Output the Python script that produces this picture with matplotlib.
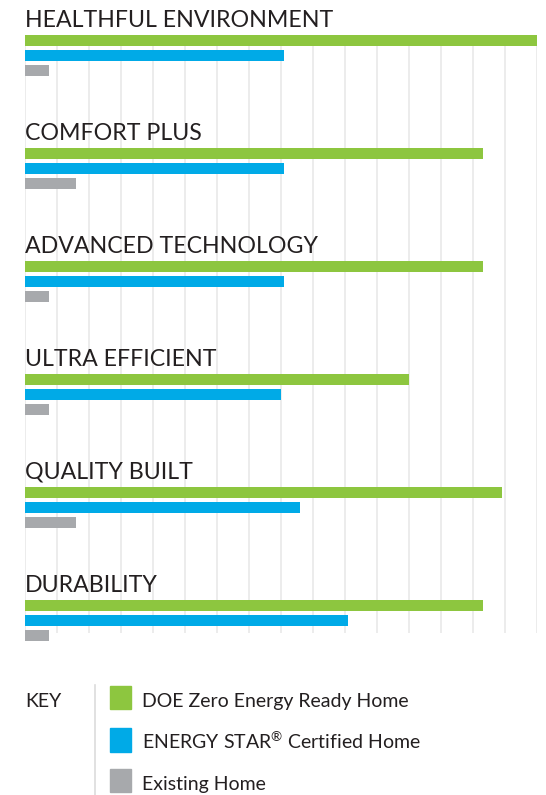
import matplotlib
matplotlib.use("Agg")
import matplotlib.pyplot as plt
from matplotlib.patches import Rectangle
from matplotlib.lines import Line2D

plt.rcParams['font.family'] = ['Lato', 'DejaVu Sans']
plt.rcParams['mathtext.fontset'] = 'custom'
plt.rcParams['mathtext.rm'] = 'Lato'
plt.rcParams['mathtext.it'] = 'Lato'
plt.rcParams['mathtext.bf'] = 'Lato'

categories = ["HEALTHFUL ENVIRONMENT", "COMFORT PLUS", "ADVANCED TECHNOLOGY",
              "ULTRA EFFICIENT", "QUALITY BUILT", "DURABILITY"]
zero_energy = [16.0, 14.3, 14.3, 12.0, 14.9, 14.3]
energy_star = [8.1, 8.1, 8.1, 8.0, 8.6, 10.1]
existing = [0.75, 1.6, 0.75, 0.75, 1.6, 0.75]
series_names = ["DOE Zero Energy Ready Home", r"ENERGY STAR$^{\mathrm{®}}$ Certified Home", "Existing Home"]
colors = ["#8dc63f", "#00aae7", "#a7a9ac"]
grid_ticks = list(range(0, 17))

W, H = 546, 795
fig = plt.figure(figsize=(W / 100, H / 100), dpi=100)
fig.patch.set_facecolor("white")

# Main axes: spans figure px y 0..650, x 25..537
ax = fig.add_axes([25 / W, 1 - 650 / H, 512 / W, 650 / H])
ax.set_xlim(0, 16)
G = 113.0  # px per group
ax.set_ylim((650 - 55.5) / G, -55.5 / G)
ax.axis("off")

# gridlines
ax.vlines(grid_ticks, (46 - 55.5) / G, (633 - 55.5) / G, colors="#ebebeb", linewidth=1.3, zorder=0)

off = 15.0 / G
bh = 11.5 / G
for i, cat in enumerate(categories):
    ax.barh(i - off, zero_energy[i], height=bh, color=colors[0], zorder=2)
    ax.barh(i, energy_star[i], height=bh, color=colors[1], zorder=2)
    ax.barh(i + off, existing[i], height=bh * 0.95, color=colors[2], zorder=2)
    ax.text(0, i - 28.5 / G, cat, fontsize=16.7, color="#231f20", ha="left", va="baseline")

# Key / legend
fig.text(25 / W, 1 - 707 / H, "KEY", fontsize=14, color="#231f20", ha="left", va="baseline")
fig.add_artist(Line2D([95 / W, 95 / W], [1 - 685 / H, 0], color="#dcdcdc", linewidth=1.2))
squares = [(686, 709), (728, 752), (769, 792)]
baselines = [707, 749, 790]
for (t, b), bl, name, col in zip(squares, baselines, series_names, colors):
    fig.add_artist(Rectangle((110 / W, 1 - b / H), 21 / W, (b - t) / H, color=col,
                             transform=fig.transFigure))
    fig.text(142 / W, 1 - bl / H, name, fontsize=14, color="#231f20", ha="left", va="baseline")

fig.savefig("out.png", dpi=100, facecolor="white")
